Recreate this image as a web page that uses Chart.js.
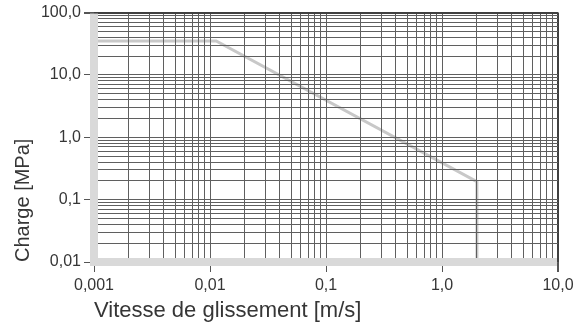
<!DOCTYPE html>
<html lang="fr">
<head>
<meta charset="utf-8">
<title>Charge / vitesse de glissement</title>
<script src="https://cdn.jsdelivr.net/npm/chart.js@4.4.1/dist/chart.umd.min.js"></script>
<style>
  html, body { margin: 0; padding: 0; background: #fff; }
  #graphique { display: block; }
</style>
</head>
<body>
<canvas id="graphique" width="579" height="329"></canvas>
<script>
const vitesse = [0.001, 0.0113, 2, 2];     // m/s
const charge = [35, 35, 0.195, 0.01];      // MPa

// Décades des axes et leurs libellés
const decadesX = [0.001, 0.01, 0.1, 1, 10];
const libellesX = ["0,001", "0,01", "0,1", "1,0", "10,0"];
const decadesY = [0.01, 0.1, 1, 10, 100];
const libellesY = ["0,01", "0,1", "1,0", "10,0", "100,0"];
const multiples = [1, 2, 3, 4, 5, 6, 7, 8, 9];

// Graduations 1..9 de chaque décade (grille logarithmique)
function grilleLog(decades) {
  const ticks = [];
  decades.forEach(function (d, i) {
    if (i === decades.length - 1) {
      ticks.push({ value: d });
      return;
    }
    multiples.forEach(function (m) {
      ticks.push({ value: +(d * m).toPrecision(6) });
    });
  });
  return ticks;
}

function indexDecade(value, decades) {
  for (let i = 0; i < decades.length; i++) {
    if (Math.abs(value - decades[i]) < decades[i] * 1e-6) return i;
  }
  return -1;
}

function axe(decades, libelles, titre, estX) {
  const dernier = decades[decades.length - 1];
  return {
    type: "logarithmic",
    min: decades[0],
    max: dernier,
    afterBuildTicks: function (scale) {
      scale.ticks = grilleLog(decades);
    },
    afterFit: function (scale) {
      if (estX) {
        scale.height = 67;
        scale.paddingRight = 0;
      } else {
        scale.width = 94;
      }
    },
    border: { display: false },
    grid: {
      z: 1,
      color: function (c) {
        return c.tick && c.tick.value === dernier ? "#404040" : "#5f5f5f";
      },
      lineWidth: function (c) {
        return c.tick && c.tick.value === dernier ? 2 : 1;
      },
      tickLength: 10,
      tickColor: function (c) {
        return c.tick && indexDecade(c.tick.value, decades) >= 0 ? "#555555" : "rgba(0,0,0,0)";
      }
    },
    ticks: {
      autoSkip: false,
      maxRotation: 0,
      padding: estX ? 4 : 3,
      color: "#363636",
      font: { family: "Liberation Sans", size: 16 },
      callback: function (value) {
        const i = indexDecade(value, decades);
        return i >= 0 ? libelles[i] : "";
      }
    },
    title: {
      display: true,
      text: titre,
      align: "start",
      color: "#363636",
      font: { family: "Liberation Sans", size: estX ? 22 : 20 },
      padding: estX ? { top: 0, bottom: 5 } : { top: 11, bottom: 0 }
    }
  };
}

// Bande grise à gauche et en bas de la zone du graphique
const bandeGrise = {
  id: "bandeGrise",
  afterDraw: function (chart) {
    const a = chart.chartArea;
    const c = chart.ctx;
    c.save();
    c.fillStyle = "#d9d9d9";
    c.fillRect(a.left - 4, a.top + 1, 8, a.bottom - a.top + 3);
    c.fillRect(a.left - 4, a.bottom - 4, a.right - a.left + 3, 8);
    c.restore();
  }
};

const points = vitesse.map(function (v, i) {
  return { x: v, y: charge[i] };
});

new Chart(document.getElementById("graphique"), {
  type: "line",
  data: {
    datasets: [
      {
        data: points,
        borderColor: "#c8c8c8",
        borderWidth: 3,
        pointRadius: 0,
        tension: 0,
        fill: false
      }
    ]
  },
  options: {
    responsive: false,
    animation: false,
    devicePixelRatio: 1,
    layout: { padding: { top: 12, right: 21, left: 0, bottom: 0 } },
    scales: {
      x: axe(decadesX, libellesX, "Vitesse de glissement [m/s]", true),
      y: axe(decadesY, libellesY, "Charge [MPa]", false)
    },
    plugins: {
      legend: { display: false },
      tooltip: { enabled: false }
    }
  },
  plugins: [bandeGrise]
});
</script>
</body>
</html>
